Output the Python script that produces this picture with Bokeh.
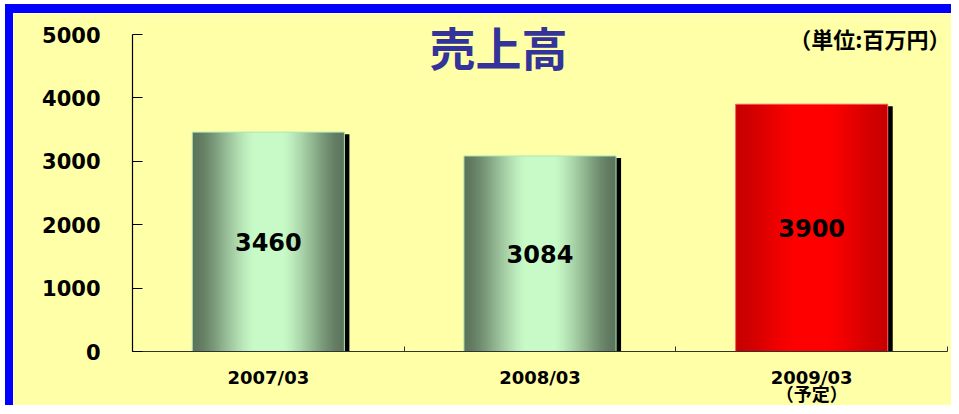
import numpy as np
from bokeh.plotting import figure
from bokeh.models import FixedTicker, Label, ColumnDataSource
from bokeh.embed import file_html
from bokeh.resources import INLINE
from bokeh.core.properties import value

# ---- data ----
categories = ["2007/03", "2008/03", "2009/03\n（予定）"]
sales = [3460, 3084, 3900]
is_forecast = [False, False, True]
title_text = "売上高"
unit_text = "（単位:百万円）"
y_ticks = [0, 1000, 2000, 3000, 4000, 5000]

BG = "#FFFFA8"
OX, OY = 13, 13          # page position of the canvas (after blue border)
W, H = 959 - OX, 414 - OY
FL, FR, FT, FB = 132 - OX, 12, 20 - OY, 414 - 351   # frame borders
Y_END = 5000 * (H - FT - FB) / (351 - 34)
BAR_W = 0.56

p = figure(width=W, height=H, output_backend="svg", toolbar_location=None,
           x_range=(0, len(categories)), y_range=(0, Y_END),
           min_border_left=FL, min_border_right=FR, min_border_top=FT,
           min_border_bottom=FB)
p.styles = {"border-left": "8px solid #0000FF", "border-top": "9px solid #0000FF",
            "margin-left": "5px", "margin-top": "4px"}
p.background_fill_color = BG
p.border_fill_color = BG
p.outline_line_color = None
p.grid.visible = False

px_y = (H - FT - FB) / Y_END
px_x = (W - FL - FR) / len(categories)

def dx(page_x):
    return (page_x - 132) / px_x

def dy(page_y):
    return (351 - page_y) / px_y

# shadows
xs = np.arange(len(categories)) + 0.5
p.vbar(x=xs + 5 / px_x, top=np.array(sales) - 2 / px_y, bottom=0, width=BAR_W,
       fill_color="black", line_color=None)

# gradient bars as narrow strips
N = 76
def grad_colors(dark, light):
    t = (np.arange(N) + 0.5) / N
    f = np.clip(np.sin(np.pi * t) ** 1.6 * 1.08, 0, 1)
    cols = []
    for v in f:
        c = [int(round(d + (l - d) * v)) for d, l in zip(dark, light)]
        cols.append("#%02x%02x%02x" % tuple(c))
    return cols

sl, sr, stop, scol = [], [], [], []
for i, (v, fc) in enumerate(zip(sales, is_forecast)):
    if fc:
        cols = grad_colors((200, 0, 0), (255, 0, 0))
    else:
        cols = grad_colors((92, 116, 92), (200, 250, 200))
    left = xs[i] - BAR_W / 2
    step = BAR_W / N
    for k in range(N):
        sl.append(left + k * step)
        sr.append(min(left + (k + 1.8) * step, left + BAR_W))
        stop.append(v)
        scol.append(cols[k])
src = ColumnDataSource(dict(left=sl, right=sr, top=stop, color=scol))
p.quad(left="left", right="right", top="top", bottom=0, source=src,
       fill_color="color", line_color=None)
# thin outline
p.vbar(x=xs, top=sales, bottom=0, width=BAR_W, fill_color=None,
       line_color=["#a8e8b0" if not f else "#ff6060" for f in is_forecast], line_width=1)

# value labels
p.text(x=xs, y=np.array(sales) / 2, text=[str(v) for v in sales],
       text_align="center", text_baseline="middle",
       text_font=value("DejaVu Sans"), text_font_style="bold",
       text_font_size="24px", text_color="black")

# axes
xa = p.xaxis[0]
xa.ticker = FixedTicker(ticks=list(xs), minor_ticks=list(range(len(categories) + 1)))
xa.major_label_overrides = {float(x): c for x, c in zip(xs, categories)}
xa.major_tick_line_color = None
xa.minor_tick_in = 5
xa.minor_tick_out = 0
xa.minor_tick_line_color = "#333333"
xa.axis_line_color = "#333333"
xa.axis_line_width = 1.2
xa.major_label_standoff = 9
xa.major_label_text_font = "DejaVu Sans, Noto Sans CJK JP"
xa.major_label_text_font_style = "bold"
xa.major_label_text_font_size = "18px"
xa.major_label_text_color = "black"
xa.major_label_text_line_height = 0.82

ya = p.yaxis[0]
ya.ticker = FixedTicker(ticks=y_ticks)
ya.bounds = (0, 5000)
ya.major_tick_in = 10
ya.major_tick_out = 0
ya.minor_tick_line_color = None
ya.axis_line_color = "black"
ya.axis_line_width = 1.2
ya.major_tick_line_color = "black"
ya.major_label_standoff = 32
ya.major_label_text_font = "DejaVu Sans"
ya.major_label_text_font_style = "bold"
ya.major_label_text_font_size = "21px"
ya.major_label_text_color = "black"

# title and unit
p.add_layout(Label(x=dx(498), y=dy(45), text=title_text,
                   text_align="center", text_baseline="middle",
                   text_font="Noto Sans CJK JP", text_font_style="bold",
                   text_font_size="46px", text_color="#333399"))
p.add_layout(Label(x=dx(950), y=dy(37), text=unit_text,
                   text_align="right", text_baseline="middle",
                   text_font="Noto Sans CJK JP", text_font_style="bold",
                   text_font_size="22px", text_color="black"))

open("out.html", "w").write(file_html(p, INLINE))
